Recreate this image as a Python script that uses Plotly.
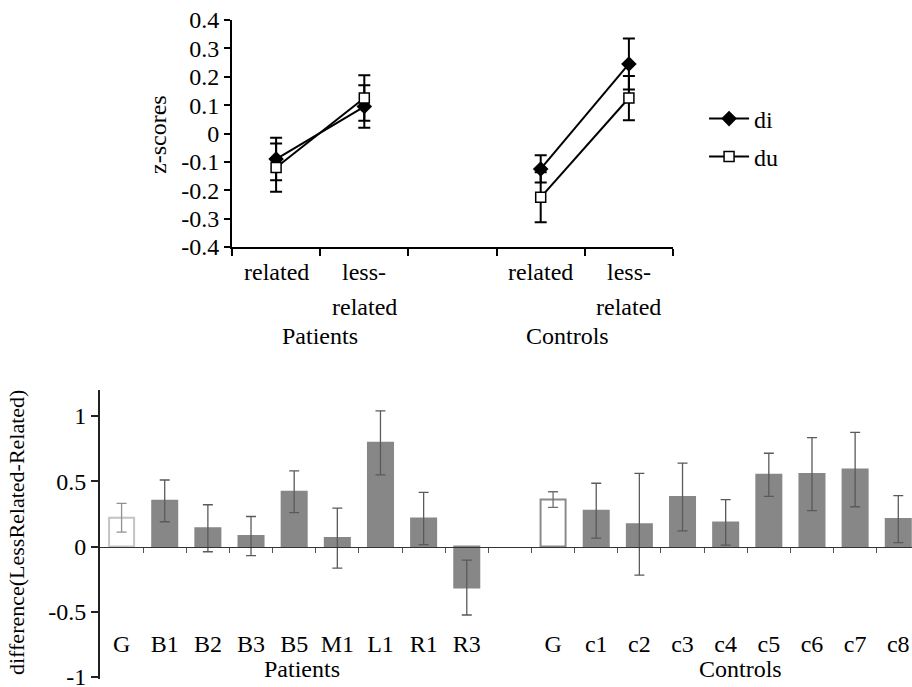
import plotly.graph_objects as go

# ---------------- data: top chart (z-scores) ----------------
top_conditions = ["related", "less-related", "", "related", "less-related"]
top_groups = ["Patients", "Controls"]
top_group_centers = [0.5, 3.3]
di_mean = [-0.09, 0.095, None, -0.125, 0.245]
di_err = [0.075, 0.075, None, 0.048, 0.09]
du_mean = [-0.12, 0.125, None, -0.225, 0.125]
du_err = [0.085, 0.08, None, 0.088, 0.078]
top_yticks = [-0.4, -0.3, -0.2, -0.1, 0, 0.1, 0.2, 0.3, 0.4]

# ---------------- data: bottom chart (differences) ----------------
patient_labels = ["G", "B1", "B2", "B3", "B5", "M1", "L1", "R1", "R3"]
patient_diff = [0.22, 0.35, 0.14, 0.08, 0.42, 0.065, 0.795, 0.215, -0.315]
patient_err = [0.11, 0.16, 0.18, 0.15, 0.16, 0.23, 0.245, 0.20, 0.21]
control_labels = ["G", "c1", "c2", "c3", "c4", "c5", "c6", "c7", "c8"]
control_diff = [0.36, 0.275, 0.17, 0.38, 0.185, 0.55, 0.555, 0.59, 0.21]
control_err = [0.06, 0.21, 0.39, 0.26, 0.175, 0.165, 0.28, 0.285, 0.18]
bottom_groups = ["Patients", "Controls"]
bottom_yticks = [-1, -0.5, 0, 0.5, 1]

FONT = "Liberation Serif"
FS = 24
W, H = 912, 687

fig = go.Figure()

# ---------- top chart ----------
top_x = list(range(len(top_conditions)))
fig.add_trace(go.Scatter(
    x=top_x, y=di_mean, name="di", mode="lines+markers",
    line=dict(color="black", width=2),
    marker=dict(symbol="diamond", size=12, color="black"),
    error_y=dict(type="data", array=di_err, color="black", thickness=2, width=6),
    xaxis="x", yaxis="y", legend="legend", connectgaps=False,
))
fig.add_trace(go.Scatter(
    x=top_x, y=du_mean, name="du", mode="lines+markers",
    line=dict(color="black", width=2),
    marker=dict(symbol="square", size=10, color="white", line=dict(color="black", width=1.5)),
    error_y=dict(type="data", array=du_err, color="black", thickness=2, width=6),
    xaxis="x", yaxis="y", legend="legend2", connectgaps=False,
))

# ---------- bottom chart ----------
n_p = len(patient_labels)
pat_x = list(range(n_p))
ctl_x = [n_p + 1 + i for i in range(len(control_labels))]
bw = 0.58

def bar(xs, ys, es, fill, outline, errc, name):
    fig.add_trace(go.Bar(
        x=xs, y=ys, width=bw, name=name, showlegend=False,
        marker=dict(color=fill, line=dict(color=outline, width=2)),
        error_y=dict(type="data", array=es, color=errc, thickness=1.3, width=5),
        xaxis="x2", yaxis="y2",
    ))

bar(pat_x[:1], patient_diff[:1], patient_err[:1], "white", "#c4c4c4", "#909090", "pG")
bar(pat_x[1:], patient_diff[1:], patient_err[1:], "#878787", "#878787", "#5a5a5a", "pat")
bar(ctl_x[:1], control_diff[:1], control_err[:1], "white", "#8a8a8a", "#707070", "cG")
bar(ctl_x[1:], control_diff[1:], control_err[1:], "#878787", "#878787", "#5a5a5a", "ctl")

# invisible trace to host the zero axis with boundary ticks
fig.add_trace(go.Scatter(x=[None], y=[None], xaxis="x3", yaxis="y2", showlegend=False))

# ---------- layout ----------
top_xdom = [232 / W, 673 / W]
top_ydom = [1 - 247 / H, 1 - 20 / H]
bot_xdom = [100 / W, 1.0]
bot_range = [-1.012, 1.2]
bot_ydom = [1 - 678.5 / H, 1 - 390 / H]
bot_xrange = [-0.5, -0.5 + (W - 100) / 43.15]
zero_pos = bot_ydom[0] + (0 - bot_range[0]) / (bot_range[1] - bot_range[0]) * (bot_ydom[1] - bot_ydom[0])

total_slots = n_p + 1 + len(control_labels)

fig.update_layout(
    width=W, height=H,
    margin=dict(l=0, r=0, t=0, b=0, autoexpand=False),
    paper_bgcolor="white", plot_bgcolor="white",
    font=dict(family=FONT, size=FS, color="black"),
    barmode="overlay",
    xaxis=dict(domain=top_xdom, range=[-0.5, len(top_conditions) - 0.5], anchor="y",
               showline=True, linecolor="black", linewidth=2, showgrid=False, zeroline=False,
               tickvals=[i - 0.5 for i in range(len(top_conditions) + 1)],
               showticklabels=False, ticks="outside", ticklen=7, tickwidth=2, tickcolor="black"),
    yaxis=dict(domain=top_ydom, range=[-0.4, 0.4], anchor="x",
               showline=True, linecolor="black", linewidth=2, showgrid=False, zeroline=False,
               tickvals=top_yticks, ticktext=[f"{v:g}" for v in top_yticks],
               ticks="outside", ticklen=6, tickwidth=2, tickcolor="black"),
    xaxis2=dict(domain=bot_xdom, range=bot_xrange, anchor="free", position=1 - 627 / H,
                showline=False, showgrid=False, zeroline=False, ticks="",
                tickvals=pat_x + ctl_x, ticktext=patient_labels + control_labels,
                ticklabeloverflow="allow"),
    yaxis2=dict(domain=bot_ydom, range=bot_range, anchor="x2",
                showline=True, linecolor="#222", linewidth=2, showgrid=False, zeroline=False,
                tickvals=bottom_yticks, ticktext=[f"{v:g}" for v in bottom_yticks],
                ticks="outside", ticklen=7, tickwidth=2, tickcolor="#222",
                ticklabeloverflow="allow"),
    xaxis3=dict(domain=bot_xdom, range=bot_xrange, anchor="free", position=zero_pos,
                overlaying="x2", showline=True, linecolor="#333", linewidth=1.2,
                showgrid=False, zeroline=False, showticklabels=False,
                tickvals=[i + 0.5 for i in range(total_slots - 1)],
                ticks="outside", ticklen=5, tickwidth=1, tickcolor="#555"),
    legend=dict(x=0.772, y=1 - 119 / H, xanchor="left", yanchor="middle",
                bgcolor="rgba(0,0,0,0)", font=dict(size=FS), itemwidth=40),
    legend2=dict(x=0.772, y=1 - 157 / H, xanchor="left", yanchor="middle",
                 bgcolor="rgba(0,0,0,0)", font=dict(size=FS), itemwidth=40),
)

ann = []
# top x category labels (two-line for "less-related")
for i, lab in enumerate(top_conditions):
    lines = lab.replace("-", "-\n").split("\n") if lab else []
    for j, ln in enumerate(lines):
        ann.append(dict(x=i, y=1 - (272 + 35 * j) / H, xref="x", yref="paper",
                        text=ln, showarrow=False, xanchor="center", yanchor="middle"))
for g, cx in zip(top_groups, top_group_centers):
    ann.append(dict(x=cx, y=1 - 336 / H, xref="x", yref="paper", text=g,
                    showarrow=False, xanchor="center", yanchor="middle"))
# bottom group labels
ann.append(dict(x=(pat_x[0] + pat_x[-1]) / 2 + 0.17, y=1 - 669 / H, xref="x2", yref="paper",
                text=bottom_groups[0], showarrow=False, xanchor="center", yanchor="middle"))
ann.append(dict(x=(ctl_x[0] + ctl_x[-1]) / 2 + 0.35, y=1 - 669 / H, xref="x2", yref="paper",
                text=bottom_groups[1], showarrow=False, xanchor="center", yanchor="middle"))
# axis titles
ann.append(dict(x=158 / W, y=1 - 135 / H, xref="paper", yref="paper", text="z-scores",
                textangle=-90, showarrow=False, xanchor="center", yanchor="middle"))
ann.append(dict(x=16 / W, y=1 - 533 / H, xref="paper", yref="paper",
                text="difference(LessRelated-Related)", font=dict(size=22),
                textangle=-90, showarrow=False, xanchor="center", yanchor="middle"))
fig.update_layout(annotations=ann)

fig.write_html("out.html", config={"displayModeBar": False},
               post_script="document.body.style.margin='0px';")
